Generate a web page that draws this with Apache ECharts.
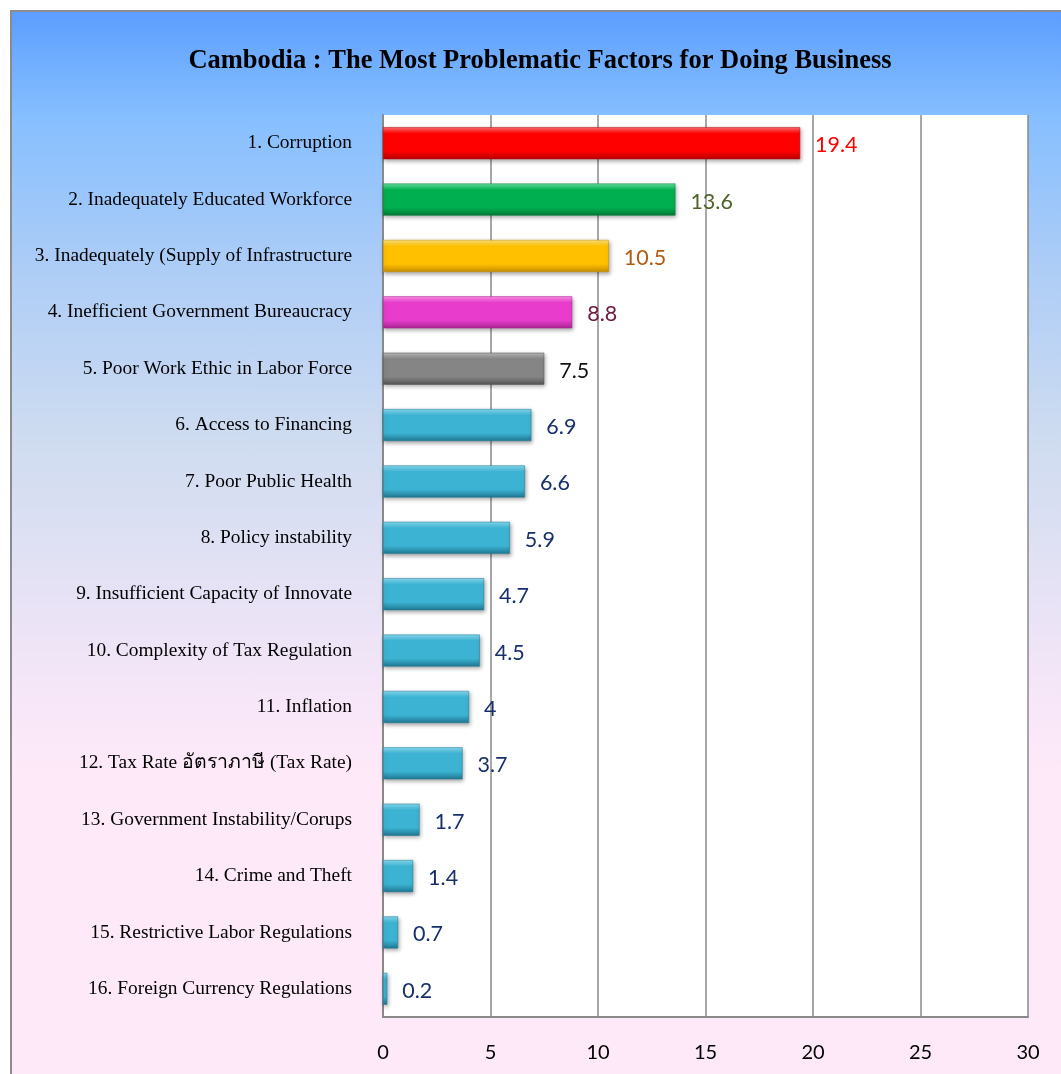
<!DOCTYPE html>
<html>
<head>
<meta charset="utf-8">
<script src="https://cdn.jsdelivr.net/npm/echarts@6/dist/echarts.min.js"></script>
<style>
  html, body { margin: 0; padding: 0; background: #fff; overflow: hidden; }
  #frame {
    position: absolute; left: 10px; top: 10px; width: 1100px; height: 1100px;
    border: 2px solid #8c8c8c; box-sizing: border-box;
    background: linear-gradient(to bottom, #5c9eff 0px, #86bfff 105px, #aecdf6 260px, #cfdcf0 430px, #e6e2f5 580px, #f8e7f8 700px, #fde9f8 760px, #fde9f8 100%);
  }
  #chart { position: absolute; left: 0; top: 0; width: 1061px; height: 1074px; }
</style>
</head>
<body>
<div id="frame"></div>
<div id="chart"></div>
<script>
// categories top -> bottom
const categories = [
  '1. Corruption',
  '2. Inadequately Educated Workforce',
  '3. Inadequately (Supply of Infrastructure',
  '4. Inefficient Government Bureaucracy',
  '5. Poor Work Ethic in Labor Force',
  '6. Access to Financing',
  '7. Poor Public Health',
  '8. Policy instability',
  '9. Insufficient Capacity of Innovate',
  '10. Complexity of Tax Regulation',
  '11. Inflation',
  '12. Tax Rate อัตราภาษี (Tax Rate)',
  '13. Government Instability/Corups',
  '14. Crime and Theft',
  '15. Restrictive Labor Regulations',
  '16. Foreign Currency Regulations'
];
const values = [19.4, 13.6, 10.5, 8.8, 7.5, 6.9, 6.6, 5.9, 4.7, 4.5, 4, 3.7, 1.7, 1.4, 0.7, 0.2];
const xTicks = [0, 5, 10, 15, 20, 25, 30];

// bar colours: [top highlight, middle, bottom shade]
const cyan = ['#86dcf2', '#3cb3d3', '#1f7893'];
const barColors = [
  ['#ff7070', '#ff0000', '#b80000'],
  ['#66e3a0', '#00b050', '#007a35'],
  ['#ffe27a', '#ffc000', '#c88e00'],
  ['#ff90ea', '#e83dcc', '#a82592'],
  ['#bababa', '#858585', '#555555'],
  cyan, cyan, cyan, cyan, cyan, cyan, cyan, cyan, cyan, cyan, cyan
];
const labelColors = ['#ff0000', '#4f6228', '#b35a0e', '#6e1a40', '#111111',
  '#17306b', '#17306b', '#17306b', '#17306b', '#17306b', '#17306b',
  '#17306b', '#17306b', '#17306b', '#17306b', '#17306b'];

const seriesData = values.map((v, i) => ({
  value: v,
  itemStyle: {
    color: {
      type: 'linear', x: 0, y: 0, x2: 0, y2: 1,
      colorStops: [
        { offset: 0, color: barColors[i][0] },
        { offset: 0.2, color: barColors[i][1] },
        { offset: 0.75, color: barColors[i][1] },
        { offset: 1, color: barColors[i][2] }
      ]
    },
    borderColor: barColors[i][2],
    borderWidth: 0.5
  },
  label: { color: labelColors[i] }
}));

const chart = echarts.init(document.getElementById('chart'));
chart.setOption({
  backgroundColor: 'transparent',
  animation: false,
  title: {
    text: 'Cambodia : The Most Problematic Factors for Doing Business',
    left: 535,
    top: 43,
    textAlign: 'center',
    textStyle: {
      fontFamily: 'Liberation Serif',
      fontWeight: 'bold',
      fontSize: 26.5,
      color: '#000'
    }
  },
  grid: {
    left: 383,
    right: 33,
    top: 115,
    bottom: 57,
    show: true,
    backgroundColor: '#ffffff',
    borderWidth: 0
  },
  xAxis: {
    type: 'value',
    min: 0,
    max: 30,
    interval: 5,
    axisLine: { show: true, lineStyle: { color: '#8a8a8a', width: 2 } },
    axisTick: { show: false },
    axisLabel: {
      margin: 26,
      fontFamily: 'Lato',
      fontSize: 20,
      color: '#000',
      formatter: v => xTicks.includes(v) ? String(v) : ''
    },
    splitLine: { show: true, lineStyle: { color: '#8a8a8a', width: 1.5 } }
  },
  yAxis: {
    type: 'category',
    data: categories,
    inverse: true,
    axisLine: { show: true, lineStyle: { color: '#8a8a8a', width: 2 } },
    axisTick: { show: false },
    axisLabel: {
      margin: 31,
      fontFamily: 'Liberation Serif',
      fontSize: 19.4,
      color: '#000'
    }
  },
  series: [{
    type: 'bar',
    data: seriesData,
    barWidth: 32,
    itemStyle: {
      shadowColor: 'rgba(0,0,0,0.35)',
      shadowBlur: 4,
      shadowOffsetX: 1,
      shadowOffsetY: 2
    },
    label: {
      show: true,
      position: 'right',
      distance: 15,
      offset: [0, 2],
      fontFamily: 'Lato',
      fontSize: 21.5
    }
  }]
});
</script>
</body>
</html>
